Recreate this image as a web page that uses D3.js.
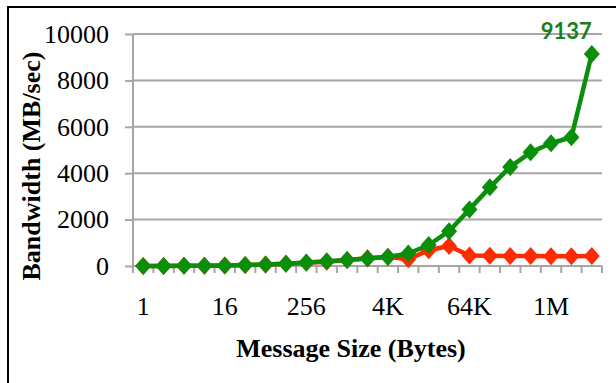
<!DOCTYPE html>
<html>
<head>
<meta charset="utf-8">
<script src="https://cdn.jsdelivr.net/npm/d3@7"></script>
<style>
  html, body { margin: 0; padding: 0; background: #fff; }
  svg { display: block; }
</style>
</head>
<body>
<svg id="chart" width="616" height="383"></svg>
<script>
// Message sizes, 1 byte to 4 MB, doubling each step
const sizes = ["1","2","4","8","16","32","64","128","256","512",
  "1K","2K","4K","8K","16K","32K","64K","128K","256K","512K","1M","2M","4M"];
// Sizes that get a tick label
const shownSizes = ["1","16","256","4K","64K","1M"];
// Bandwidth in MB/sec
const bwLow  = [2,4,7,14,24,38,60,95,140,185,260,330,400,290,680,860,450,440,430,430,420,420,430];
const bwHigh = [2,4,8,15,25,40,65,100,150,200,260,320,390,540,905,1500,2440,3390,4270,4900,5290,5550,9137];
const yTicks = [0,2000,4000,6000,8000,10000];
const peakLabel = 9137;

const svg = d3.select("#chart");
const plotLeft = 133, plotRight = 602, plotTop = 34, plotBottom = 266;
const serif = "'Liberation Serif', 'Times New Roman', serif";

// Frame
svg.append("path")
  .attr("d", "M8,383 L8,7 L616,7")
  .attr("fill", "none").attr("stroke", "#000").attr("stroke-width", 2);

const x = d3.scaleBand().domain(sizes).range([plotLeft, plotRight]).padding(0);
const y = d3.scaleLinear().domain([0, 10000]).range([plotBottom, plotTop]);
const cx = d => x(d) + x.bandwidth() / 2;

const gridColor = "#a6a6a6";

// y axis with its tick labels
const yAxis = d3.axisLeft(y).tickValues(yTicks).tickSize(8).tickPadding(16)
  .tickFormat(d3.format("d"));
const gy = svg.append("g").attr("transform", `translate(${plotLeft},0)`).call(yAxis);
gy.select(".domain").attr("stroke", gridColor).attr("stroke-width", 2)
  .attr("d", `M0,${plotTop}V${plotBottom + 6}`);
gy.selectAll(".tick line").attr("stroke", gridColor).attr("stroke-width", 2);
gy.selectAll(".tick text")
  .attr("font-family", serif).attr("font-size", 26).attr("fill", "#000");

// Horizontal gridlines
svg.append("g").selectAll("line").data(yTicks).join("line")
  .attr("x1", plotLeft).attr("x2", plotRight)
  .attr("y1", d => y(d)).attr("y2", d => y(d))
  .attr("stroke", gridColor).attr("stroke-width", 2);

// x axis: tick marks at band boundaries, labels on every fourth size
const gx = svg.append("g").attr("transform", `translate(0,${plotBottom})`);
const boundaries = sizes.map(s => x(s)).concat([plotRight]);
gx.selectAll("line.t").data(boundaries).join("line")
  .attr("class", "t")
  .attr("x1", d => d).attr("x2", d => d).attr("y1", 0).attr("y2", 7)
  .attr("stroke", gridColor).attr("stroke-width", 2);
gx.selectAll("text").data(shownSizes).join("text")
  .attr("x", d => cx(d)).attr("y", 49)
  .attr("text-anchor", "middle")
  .attr("font-family", serif).attr("font-size", 26).attr("fill", "#000")
  .text(d => d);

// Axis titles
svg.append("text")
  .attr("x", 351).attr("y", 357)
  .attr("text-anchor", "middle")
  .attr("font-family", serif).attr("font-weight", "bold").attr("font-size", 26)
  .text("Message Size (Bytes)");
svg.append("text")
  .attr("transform", "translate(40,166) rotate(-90)")
  .attr("text-anchor", "middle")
  .attr("font-family", serif).attr("font-weight", "bold").attr("font-size", 26)
  .text("Bandwidth (MB/sec)");

// Series
const line = d3.line().x((d, i) => cx(sizes[i])).y(d => y(d));
// Diamond marker, slightly taller than wide
const diamondShape = {
  draw(ctx) {
    ctx.moveTo(0, -9); ctx.lineTo(8, 0); ctx.lineTo(0, 9); ctx.lineTo(-8, 0); ctx.closePath();
  }
};
const diamond = d3.symbol().type(diamondShape);

function drawSeries(values, color) {
  const g = svg.append("g");
  g.append("path").datum(values)
    .attr("d", line).attr("fill", "none")
    .attr("stroke", color).attr("stroke-width", 4.5).attr("stroke-linejoin", "round");
  g.selectAll("path.m").data(values).join("path")
    .attr("class", "m")
    .attr("d", diamond)
    .attr("transform", (d, i) => `translate(${cx(sizes[i])},${y(d)})`)
    .attr("fill", color);
}
drawSeries(bwLow, "#ff2a00");
drawSeries(bwHigh, "#0a8f0a");

// Peak value label
svg.append("text")
  .attr("x", cx(sizes[sizes.length - 1])).attr("y", 39)
  .attr("text-anchor", "end")
  .attr("font-family", "Lato, 'Open Sans', sans-serif")
  .attr("font-weight", "bold").attr("font-size", 22)
  .attr("fill", "#1a7f1a")
  .text(peakLabel);
</script>
</body>
</html>
